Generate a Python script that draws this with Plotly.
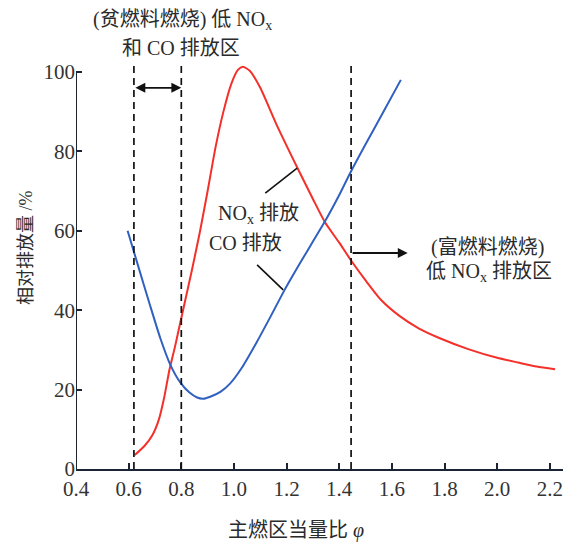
import plotly.graph_objects as go

# ---- data ----
nox_phi = [0.623, 0.66, 0.69, 0.715, 0.735, 0.755, 0.775, 0.79, 0.81, 0.84, 0.87, 0.90, 0.93, 0.96,
           0.99, 1.015, 1.034, 1.06, 1.10, 1.16, 1.24, 1.30, 1.347, 1.40, 1.445, 1.50, 1.56, 1.63,
           1.70, 1.78, 1.89, 2.00, 2.08, 2.15, 2.22]
nox_val = [3.5, 5.8, 8.5, 12.5, 18.0, 25.0, 30.5, 35.0, 41.0, 50.0, 59.5, 70.0, 81.0, 90.0,
           97.0, 100.5, 101.3, 100.3, 96.0, 87.0, 76.0, 68.0, 62.0, 57.0, 52.5, 47.5, 42.5, 38.5,
           35.5, 33.0, 30.2, 28.0, 26.8, 25.8, 25.1]

co_phi = [0.596, 0.634, 0.68, 0.72, 0.758, 0.796, 0.83, 0.86, 0.883, 0.91, 0.95, 0.985, 1.03,
          1.087, 1.14, 1.19, 1.249, 1.30, 1.347, 1.40, 1.445, 1.50, 1.57, 1.634]
co_val = [60.0, 51.6, 41.5, 33.0, 26.3, 21.8, 19.3, 18.0, 17.7, 18.2, 19.5, 21.5, 25.5,
          32.0, 38.5, 44.8, 51.6, 57.3, 62.5, 69.0, 75.0, 81.8, 90.2, 98.0]

boundary_phi = [0.62, 0.80, 1.445]
x_ticks = [0.4, 0.6, 0.8, 1.0, 1.2, 1.4, 1.6, 1.8, 2.0, 2.2]
x_ticktext = ["0.4", "0.6", "0.8", "1.0", "1.2", "1.4", "1.6", "1.8", "2.0", "2.2"]
y_ticks = [0, 20, 40, 60, 80, 100]

RED = "#f3302a"
BLUE = "#3060c0"
INK = "#2a2a2a"
AX = "#1c2333"
SERIF = "Liberation Serif, Noto Sans CJK SC"
CJK = "Liberation Serif, Noto Sans CJK SC"

fig = go.Figure()
fig.add_trace(go.Scatter(x=nox_phi, y=nox_val, mode="lines", name="NOx",
                         line=dict(color=RED, width=2, shape="spline", smoothing=0.6)))
fig.add_trace(go.Scatter(x=co_phi, y=co_val, mode="lines", name="CO",
                         line=dict(color=BLUE, width=2, shape="spline", smoothing=0.6)))

shapes = []
for b in boundary_phi:
    shapes.append(dict(type="line", xref="x", yref="y", x0=b, x1=b, y0=0, y1=101.5,
                       line=dict(color="#111", width=1.7, dash="7px,5px")))
# y-axis line from 0 to 100
shapes.append(dict(type="line", xref="x", yref="y", x0=0.4, x1=0.4, y0=0, y1=100,
                   line=dict(color=AX, width=2)))
# leader lines
shapes.append(dict(type="line", xref="x", yref="y", x0=1.24, y0=75.8, x1=1.119, y1=69.5,
                   line=dict(color="#111", width=1.6)))
shapes.append(dict(type="line", xref="x", yref="y", x0=1.088, y0=51.4, x1=1.187, y1=45.1,
                   line=dict(color="#111", width=1.6)))

def label(x, y, text, xref="x", yref="y", size=20, **kw):
    return dict(x=x, y=y, xref=xref, yref=yref, showarrow=False, text=text,
                xanchor="center", yanchor="middle",
                font=dict(family=CJK, size=size, color=INK), **kw)

annotations = [
    # double-headed arrow between lean boundaries
    dict(x=0.80, y=96, ax=0.62, ay=96, xref="x", yref="y", axref="x", ayref="y",
         text="", showarrow=True, arrowhead=2, arrowside="end+start", arrowsize=1.1,
         arrowwidth=1.8, arrowcolor="#111"),
    # right arrow from rich boundary
    dict(x=1.66, y=54.4, ax=1.445, ay=54.4, xref="x", yref="y", axref="x", ayref="y",
         text="", showarrow=True, arrowhead=2, arrowsize=1.1, arrowwidth=1.8, arrowcolor="#111"),
    label(0.803, 1.102, "(贫燃料燃烧) 低 NO<sub>x</sub>", yref="paper"),
    label(0.80, 1.0344, "和 CO 排放区", yref="paper"),
    label(1.092, 64.0, "NO<sub>x</sub> 排放"),
    label(1.043, 56.9, "CO 排放"),
    label(1.963, 55.9, "(富燃料燃烧)"),
    label(1.967, 49.6, "低 NO<sub>x</sub> 排放区"),
    # axis titles
    label(0.452, -0.15, "主燃区当量比 <i>φ</i>", xref="paper", yref="paper"),
    label(-0.103, 0.545, "相对排放量 /%", xref="paper", yref="paper", size=18, textangle=-90),
]

# the page body adds an 8px offset, so the figure is sized to fit the window
fig.update_layout(
    width=563, height=543,
    margin=dict(l=68, r=8, t=54, b=82),
    paper_bgcolor="white", plot_bgcolor="white",
    showlegend=False,
    shapes=shapes,
    annotations=annotations,
    xaxis=dict(range=[0.4, 2.25], tickvals=x_ticks, ticktext=x_ticktext,
               ticks="inside", ticklen=6, tickwidth=1.5, tickcolor=AX,
               showline=True, linecolor=AX, linewidth=2, showgrid=False, zeroline=False,
               tickfont=dict(family=SERIF, size=21, color="#333")),
    yaxis=dict(range=[0, 102.5], tickvals=y_ticks,
               ticks="inside", ticklen=6, tickwidth=1.5, tickcolor=AX,
               showline=False, showgrid=False, zeroline=False,
               tickfont=dict(family=SERIF, size=21, color="#333")),
)

fig.write_html("out.html")
